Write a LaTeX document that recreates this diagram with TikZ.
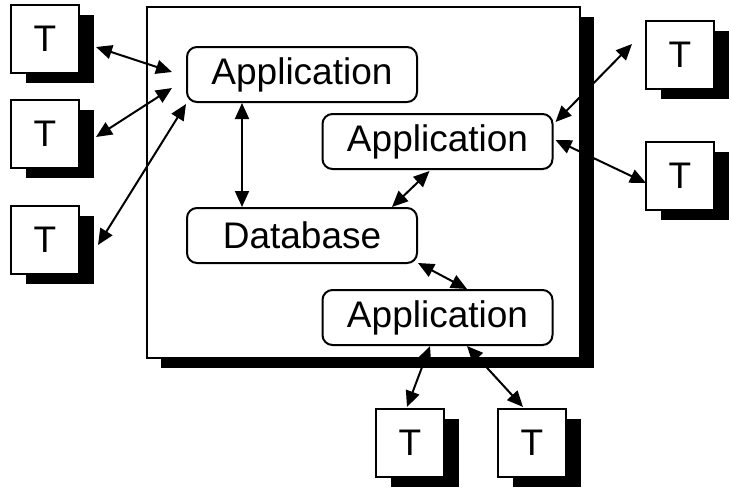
\documentclass[tikz,border=0pt]{standalone}
\usepackage{fontspec}
\setmainfont{Liberation Sans}
\usepackage{tikz}
\usetikzlibrary{arrows.meta,shadows,positioning}
\tikzstyle{terminal}=[draw,fill=white,line width=2pt,minimum width=68pt,minimum height=68pt,inner sep=0pt,drop shadow={shadow xshift=15pt,shadow yshift=-10pt,fill=black,opacity=1}]
\tikzstyle{process}=[draw,fill=white,rounded corners=10pt,line width=2pt,minimum width=230pt,minimum height=55pt,inner sep=0pt]
\tikzstyle{hostbox}=[draw,fill=white,line width=2pt,minimum width=433pt,minimum height=351pt,inner sep=0pt,drop shadow={shadow xshift=14pt,shadow yshift=-10pt,fill=black,opacity=1}]
\tikzstyle{link}=[{Triangle[length=16pt,width=14pt]}-{Triangle[length=16pt,width=14pt]}]

\begin{document}
\begin{tikzpicture}[x=1pt,y=-1pt,line width=2pt,font=\fontsize{37}{40}\selectfont]
\useasboundingbox (0,0) rectangle (731,490);
\draw (363.5, 182.5) node [hostbox] (host) {};
\draw (302, 74.5) node [process] (app1) {Application};
\draw (437.5, 141.5) node [process] (app2) {Application};
\draw (302, 235.5) node [process] (db) {Database};
\draw (437.5, 317.5) node [process] (app3) {Application};
\draw (45, 39) node [terminal] (t1) {T};
\draw (45, 134) node [terminal] (t2) {T};
\draw (45, 240) node [terminal] (t3) {T};
\draw (680, 55) node [terminal] (t4) {T};
\draw (680, 176) node [terminal] (t5) {T};
\draw (410, 443) node [terminal] (t6) {T};
\draw (532, 443) node [terminal] (t7) {T};
\draw[link] ([shift={(16,8)}]t1.east) -- ([shift={(-14,-2.5)}]app1.west);
\draw[link] ([shift={(16,3)}]t2.east) -- ([shift={(-14,13.5)}]app1.west);
\draw[link] ([shift={(18,5)}]t3.east) -- ([shift={(0,1)}]app1.south west);
\draw[link] ([shift={(-60,0)}]app1.south) -- ([shift={(-60,0)}]db.north);
\draw[link] ([shift={(-8,1)}]app2.south) -- ([shift={(90,0)}]db.north);
\draw[link] ([shift={(0,-1)}]db.south east) -- ([shift={(29.5,0)}]app3.north);
\draw[link] ([shift={(2,-19.5)}]app2.east) -- ([shift={(-13,-11)}]t4.west);
\draw[link] ([shift={(2,-1.5)}]app2.east) -- ([shift={(1,7)}]t5.west);
\draw[link] ([shift={(-7.5,0)}]app3.south) -- ([shift={(-3,-1)}]t6.north);
\draw[link] ([shift={(29.5,0)}]app3.south) -- ([shift={(-9,-1)}]t7.north);
\end{tikzpicture}
\end{document}
